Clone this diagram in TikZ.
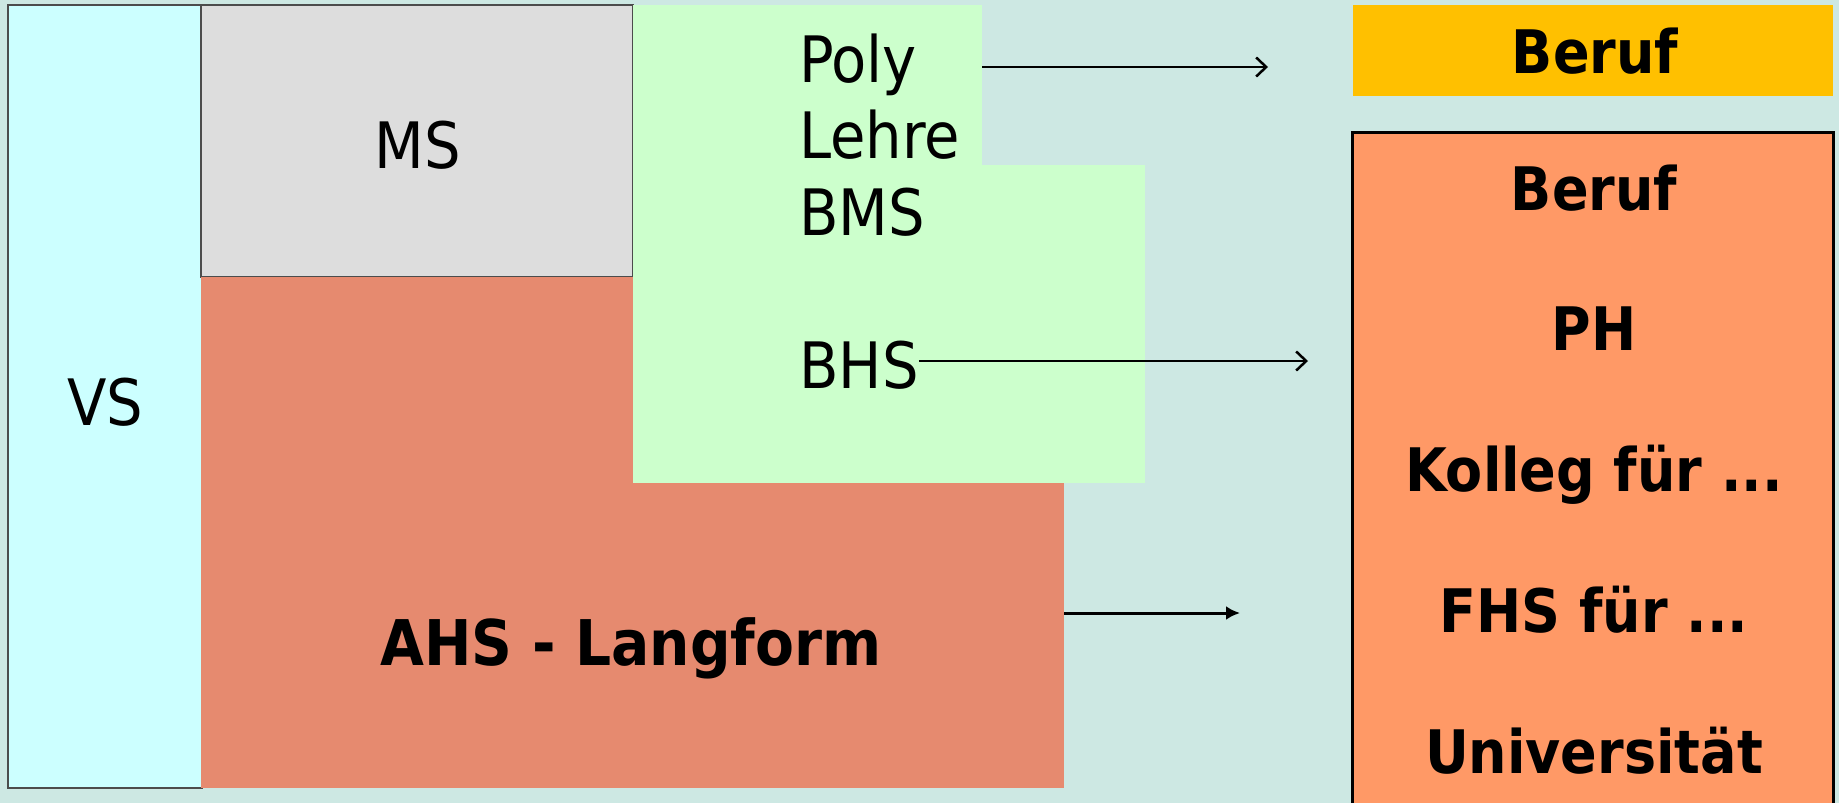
\documentclass[tikz,border=0pt]{standalone}
\usepackage{fontspec}
\setmainfont{DejaVu Sans Condensed}
\usepackage{xcolor}
\usetikzlibrary{arrows.meta}

\definecolor{bgteal}{HTML}{CDE8E3}
\definecolor{vscyan}{HTML}{CCFFFF}
\definecolor{msgray}{HTML}{DDDDDD}
\definecolor{ahsred}{HTML}{E68A6F}
\definecolor{bmsgreen}{HTML}{CCFFCC}
\definecolor{berufgold}{HTML}{FFC000}
\definecolor{uniorange}{HTML}{FF9966}

\tikzset{
    block/.style={anchor=north west, inner sep=0pt, outer sep=0pt},
    plain/.style={anchor=base, inner sep=0pt, font=\fontsize{64}{76}\selectfont},
    strong/.style={anchor=base, inner sep=0pt, font=\fontsize{60}{72}\selectfont\bfseries},
    barb/.style={-{Straight Barb[length=10pt, width=19pt, line width=2.5pt]}, line width=2.5pt}
}

\begin{document}
\begin{tikzpicture}[x=1pt, y=-1pt]
    % Background
    \fill[bgteal] (0,0) rectangle (1839,803);
    \useasboundingbox (0,0) rectangle (1839,803);

    % Schools
    \node[block, fill=vscyan, draw=black!70, line width=1.5pt, minimum width=194pt, minimum height=783pt] (vs) at (8,5) {};
    \node[block, fill=msgray, draw=black!70, line width=1.5pt, minimum width=432pt, minimum height=272pt] (ms) at (201,5) {};
    \node[block, fill=ahsred, minimum width=863pt, minimum height=511pt] (ahs) at (201,277) {};
    \node[block, fill=bmsgreen, minimum width=349pt, minimum height=162pt] (bmstop) at (633,5) {};
    \node[block, fill=bmsgreen, minimum width=512pt, minimum height=318pt] (bmsbot) at (633,165) {};

    % Labels
    \node[plain] (vslabel) at (105,425) {VS};
    \node[plain] (mslabel) at (418,168) {MS};
    \node[strong, font=\fontsize{63}{72}\selectfont\bfseries] (ahslabel) at (631,665) {AHS - Langform};
    \node[plain, anchor=base west] (poly) at (799,82) {Poly};
    \node[plain, anchor=base west] (lehre) at (799,158) {Lehre};
    \node[plain, anchor=base west] (bms) at (799,235) {BMS};
    \node[plain, anchor=base west] (bhs) at (799,388) {BHS};

    % Afterwards
    \node[block, fill=berufgold, minimum width=480pt, minimum height=91pt] (beruf) at (1353,5) {};
    \node[strong] (beruflabel) at (1595,73) {Beruf};
    \node[block, fill=uniorange, draw=black, line width=3pt, minimum width=481pt, minimum height=700pt] (after) at (1352,132) {};
    \node[strong] (after1) at (1594,210) {Beruf};
    \node[strong] (after2) at (1594,350) {PH};
    \node[strong] (after3) at (1594,491) {Kolleg für ...};
    \node[strong] (after4) at (1594,632) {FHS für ...};
    \node[strong] (after5) at (1594,773) {Universität};

    % Arrows
    \coordinate (polyend) at (1268,67);
    \coordinate (bhsend) at (1308,361);
    \coordinate (ahsend) at (1240,613);
    \draw[barb] (polyend -| bmstop.east) -- (polyend);
    \draw[barb] (bhsend -| bhs.east) -- (bhsend);
    \draw[-{Latex[length=14pt, width=14pt]}, line width=3pt] (ahsend -| ahs.east) -- (ahsend);
\end{tikzpicture}
\end{document}
